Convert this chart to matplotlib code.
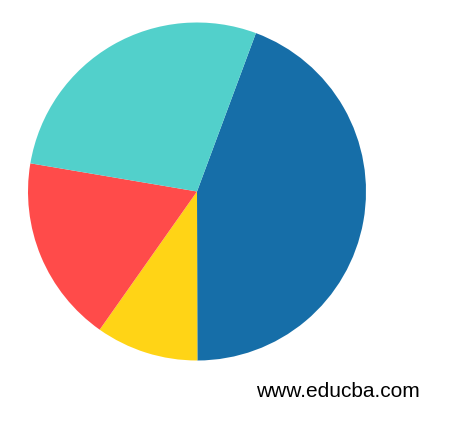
import matplotlib
matplotlib.use('Agg')
import matplotlib.pyplot as plt

# ── Datos del gráfico ───────────────────────────────────────────────────────
segmentos = ['Azul', 'Amarillo', 'Rojo', 'Turquesa']
valores = [44.3, 9.8, 17.9, 28.0]
colores = ['#166ea8', '#ffd416', '#ff4b4a', '#52d0cb']
marca = 'www.educba.com'

# ── Figura ──────────────────────────────────────────────────────────────────
fig = plt.figure(figsize=(4.5, 4.25), dpi=100)
ax = fig.add_axes([28 / 450, (425 - 360.5) / 425, 338 / 450, 338 / 425])

ax.pie(valores, colors=colores, startangle=90 - 20.4, counterclock=False,
       radius=1.0, wedgeprops=dict(linewidth=0))
ax.set_xlim(-1, 1)
ax.set_ylim(-1, 1)
ax.set_aspect('auto')
ax.axis('off')

fig.text(256 / 450, (425 - 397) / 425, marca, fontsize=15,
         family='Liberation Sans', color='black', ha='left', va='baseline')

plt.savefig('out.png', dpi=100)
